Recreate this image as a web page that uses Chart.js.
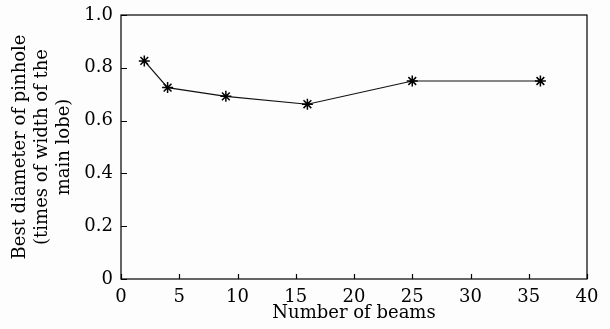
<!DOCTYPE html>
<html><head><meta charset="utf-8">
<script src="https://cdn.jsdelivr.net/npm/chart.js@4/dist/chart.umd.min.js"></script>
<style>html,body{margin:0;padding:0;background:#fdfdfd;}#wrap{width:610px;height:329px;}</style>
</head><body><div id="wrap"><canvas id="c" width="610" height="329"></canvas></div>
<script>
const beams = [2, 4, 9, 16, 25, 36];
const diameter = [0.826, 0.725, 0.692, 0.662, 0.75, 0.75];
const xTicks = [0, 5, 10, 15, 20, 25, 30, 35, 40];
const yTicks = [0, 0.2, 0.4, 0.6, 0.8, 1.0];
const xTitle = 'Number of beams';
const yTitle = ['Best diameter of pinhole', '(times of width of the', 'main lobe)'];

const FONT = '"DejaVu Serif", serif';

const framePlugin = {
  id: 'frame',
  afterDatasetsDraw(chart) {
    const {ctx, chartArea: a, scales: {x, y}} = chart;
    ctx.save();
    ctx.strokeStyle = '#000';
    ctx.lineWidth = 1.2;
    ctx.strokeRect(a.left, a.top, a.right - a.left, a.bottom - a.top);
    ctx.beginPath();
    xTicks.forEach(v => {
      const px = Math.round(x.getPixelForValue(v)) + 0.5;
      ctx.moveTo(px, a.bottom); ctx.lineTo(px, a.bottom - 5);
    });
    yTicks.forEach(v => {
      const py = Math.round(y.getPixelForValue(v)) + 0.5;
      ctx.moveTo(a.left, py); ctx.lineTo(a.left + 6, py);
    });
    ctx.stroke();
    ctx.restore();
  }
};

new Chart(document.getElementById('c'), {
  type: 'scatter',
  data: {
    datasets: [{
      data: beams.map((b, i) => ({x: b, y: diameter[i]})),
      showLine: true,
      borderColor: '#111',
      borderWidth: 1.2,
      pointStyle: 'star',
      pointRadius: 5.5,
      pointBorderWidth: 1.5,
      pointBorderColor: '#000',
      pointBackgroundColor: '#000'
    }]
  },
  options: {
    responsive: false,
    animation: false,
    layout: {padding: {left: 0, right: 23, top: 15, bottom: 0}},
    plugins: {legend: {display: false}, tooltip: {enabled: false}},
    scales: {
      x: {
        type: 'linear', min: 0, max: 40,
        afterBuildTicks: s => { s.ticks = xTicks.map(v => ({value: v})); },
        afterFit: s => { s.height = 50; s.paddingLeft = 0; },
        grid: {display: false, drawTicks: false},
        border: {display: false},
        ticks: {color: '#000', font: {family: FONT, size: 18}, padding: 8, maxRotation: 0},
        title: {display: true, text: xTitle, color: '#000', font: {family: FONT, size: 18}, padding: {top: 0, bottom: 5}}
      },
      y: {
        type: 'linear', min: 0, max: 1,
        afterBuildTicks: s => { s.ticks = yTicks.map(v => ({value: v})); },
        afterFit: s => { s.width = 121; s.paddingTop = 0; s.paddingBottom = 0; },
        grid: {display: false, drawTicks: false},
        border: {display: false},
        ticks: {color: '#000', font: {family: FONT, size: 18}, padding: 8,
          callback: v => v === 0 ? '0' : v.toFixed(1)},
        title: {display: true, text: yTitle, color: '#000', font: {family: FONT, size: 18, lineHeight: 1.22}, padding: {top: 9, bottom: 0}}
      }
    }
  },
  plugins: [framePlugin]
});
</script>
</body></html>
